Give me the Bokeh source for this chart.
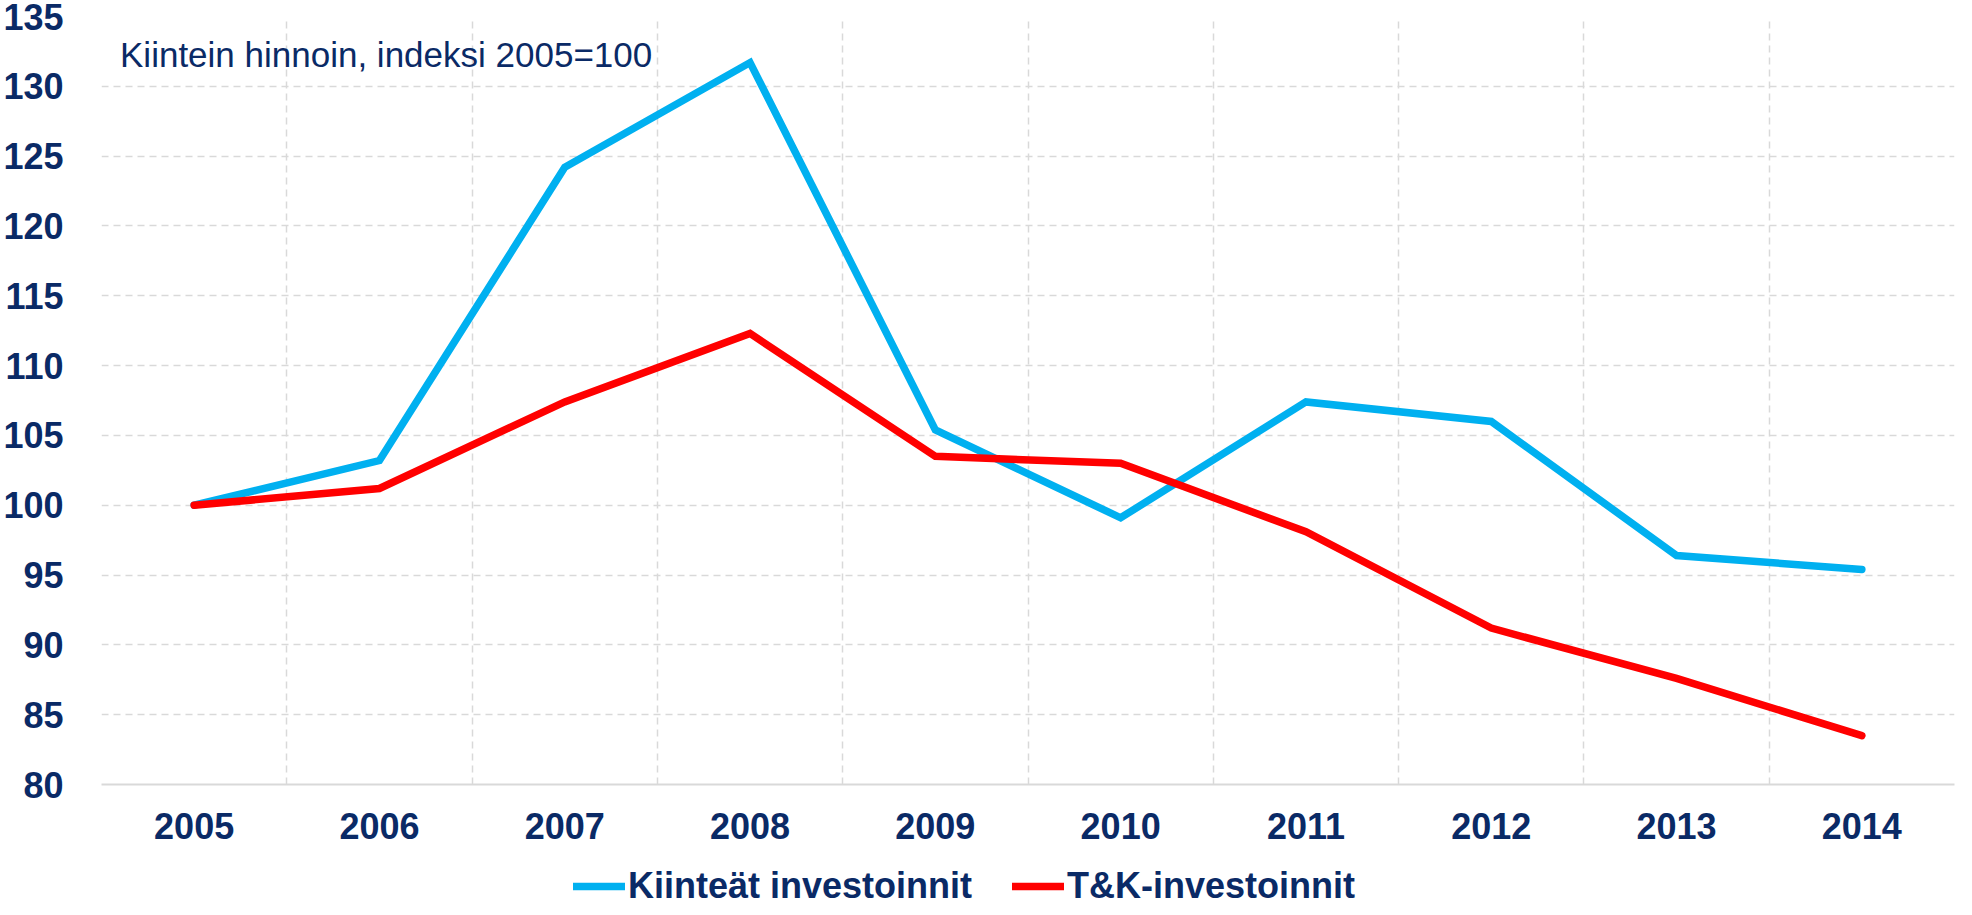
from bokeh.plotting import figure
from bokeh.layouts import column
from bokeh.models import Legend, LegendItem, FixedTicker, Label, Range1d
from bokeh.embed import file_html
from bokeh.resources import INLINE

years = [2005, 2006, 2007, 2008, 2009, 2010, 2011, 2012, 2013, 2014]
kiinteat = [100.0, 103.2, 124.2, 131.7, 105.4, 99.1, 107.4, 106.0, 96.4, 95.4]
tk = [100.0, 101.2, 107.4, 112.3, 103.5, 103.0, 98.1, 91.2, 87.6, 83.5]
y_ticks = [80, 85, 90, 95, 100, 105, 110, 115, 120, 125, 130, 135]
series_names = ["Kiinteät investoinnit", "T&K-investoinnit"]
note = "Kiintein hinnoin, indeksi 2005=100"
colors = ["#00B0F0", "#FF0000"]

NAVY = "#0A2A66"
FONT = "Liberation Sans"

p = figure(width=1956, height=850, output_backend="svg", toolbar_location=None,
           x_range=Range1d(years[0] - 0.5, years[-1] + 0.5),
           y_range=Range1d(y_ticks[0], y_ticks[-1]),
           min_border_left=99, min_border_right=2, min_border_top=16, min_border_bottom=66)
p.outline_line_color = None

p.line(years, kiinteat, line_color=colors[0], line_width=7.5, line_join="miter", line_cap="round")
p.line(years, tk, line_color=colors[1], line_width=7.5, line_join="miter", line_cap="round")

p.xaxis.ticker = FixedTicker(ticks=years)
p.yaxis.ticker = FixedTicker(ticks=y_ticks)
for ax in (p.xaxis, p.yaxis):
    ax.major_label_text_font = FONT
    ax.major_label_text_font_style = "bold"
    ax.major_label_text_font_size = "36px"
    ax.major_label_text_color = NAVY
    ax.major_tick_line_color = None
    ax.minor_tick_line_color = None
p.yaxis.axis_line_color = None
p.xaxis.axis_line_color = "#D9D9D9"
p.xaxis.axis_line_width = 2
p.yaxis.major_label_standoff = 32
p.xaxis.major_label_standoff = 22

p.xgrid.ticker = FixedTicker(ticks=[y - 0.5 for y in years] + [years[-1] + 0.5])
p.ygrid.ticker = FixedTicker(ticks=y_ticks)
for g in (p.xgrid, p.ygrid):
    g.grid_line_color = "#D9D9D9"
    g.grid_line_dash = "7 5"
    g.grid_line_width = 1.5

p.add_layout(Label(x=years[0] - 0.4, y=y_ticks[-1] - 1.3, text=note, text_font=FONT,
                   text_font_size="35px", text_color=NAVY, text_baseline="top"))

# legend strip below the chart (series drawn outside its visible range, only for the legend glyphs)
p2 = figure(width=1956, height=57, output_backend="svg", toolbar_location=None,
            x_axis_type=None, y_axis_type=None,
            x_range=Range1d(0, 1), y_range=Range1d(0, 1),
            min_border_left=0, min_border_right=0, min_border_top=0, min_border_bottom=0)
p2.outline_line_color = None
p2.grid.visible = False
d1 = p2.line(years, kiinteat, line_color=colors[0], line_width=7.5, line_cap="round")
d2 = p2.line(years, tk, line_color=colors[1], line_width=7.5, line_cap="round")
legend = Legend(items=[LegendItem(label=series_names[0], renderers=[d1]),
                       LegendItem(label=series_names[1], renderers=[d2])],
                orientation="horizontal", location=(472, 0),
                label_text_font=FONT, label_text_font_style="bold",
                label_text_font_size="36px", label_text_color=NAVY,
                glyph_width=52, glyph_height=30, spacing=40, padding=0, margin=0,
                label_standoff=3, border_line_color=None, background_fill_alpha=0)
p2.add_layout(legend, "center")

open("out.html", "w").write(file_html(column(p, p2, spacing=0), INLINE))
